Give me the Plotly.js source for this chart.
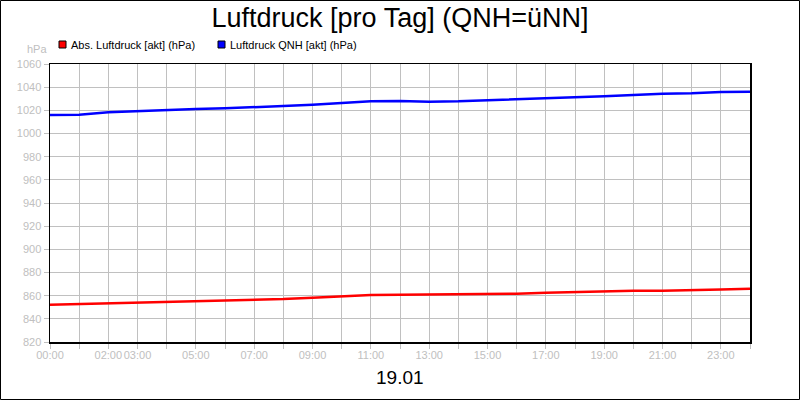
<!DOCTYPE html>
<html>
<head>
<meta charset="utf-8">
<script src="https://cdn.plot.ly/plotly-3.0.1.min.js"></script>
<style>
  html, body { margin: 0; padding: 0; background: #fff; }
  #chart { width: 800px; height: 400px; }
</style>
</head>
<body>
<div id="chart"></div>
<script>
// Stunden 0..24 (19.01.), Werte stündlich
const stunden = [0, 1, 2, 3, 4, 5, 6, 7, 8, 9, 10, 11, 12, 13, 14, 15, 16, 17, 18, 19, 20, 21, 22, 23, 24];
const absLuftdruck = [852.1, 852.7, 853.6, 854.2, 854.8, 855.1, 855.4, 856.2, 857.1, 858.3, 859.7, 860.6, 860.7,
  860.9, 860.9, 861.4, 861.7, 862.5, 863.1, 863.7, 864.2, 864.2, 864.5, 865.4, 866.0];
const luftdruckQNH = [1016.0, 1016.2, 1018.3, 1019.4, 1020.5, 1021.1, 1021.7, 1022.6, 1023.7, 1024.9, 1026.3, 1027.8, 1028.1,
  1027.5, 1027.8, 1028.6, 1029.5, 1030.4, 1030.9, 1032.1, 1033.2, 1034.4, 1034.7, 1035.8, 1036.1];

const achsenTicks = [0, 1, 2, 3, 4, 5, 6, 7, 8, 9, 10, 11, 12, 13, 14, 15, 16, 17, 18, 19, 20, 21, 22, 23, 24];
const achsenLabels = ['00:00', '', '02:00', '03:00', '', '05:00', '', '07:00', '', '09:00', '', '11:00', '',
  '13:00', '', '15:00', '', '17:00', '', '19:00', '', '21:00', '', '23:00', ''];

const serienNamen = ['Abs. Luftdruck [akt] (hPa)', 'Luftdruck QNH [akt] (hPa)'];
const serienFarben = ['#ff0000', '#0000ff'];

const GRAU = '#c0c0c0';
const SCHRIFT = '"Liberation Sans", Arial, sans-serif';

// Plotbereich in Pixeln: links 50, rechts 750, oben 64, unten 342
const M = { l: 50, r: 50, t: 64, b: 58 };
const B = 800 - M.l - M.r, H = 400 - M.t - M.b;
const px = (x) => (x - M.l) / B;     // Pixel -> paper x
const py = (y) => (400 - M.b - y) / H; // Pixel -> paper y

const trazas = [absLuftdruck, luftdruckQNH].map((werte, i) => ({
  type: 'scatter',
  mode: 'lines',
  name: serienNamen[i],
  x: stunden,
  y: werte,
  line: { color: serienFarben[i], width: 2.5 },
  hoverinfo: 'skip',
}));

// eigene Legende mit Quadraten, wie im Original
const legendeX = [59, 218];
const shapes = [];
const annotations = [];
serienNamen.forEach((name, i) => {
  shapes.push({ type: 'rect', xref: 'paper', yref: 'paper',
    x0: px(legendeX[i]), x1: px(legendeX[i] + 7), y0: py(48), y1: py(41),
    fillcolor: serienFarben[i], line: { color: '#000', width: 1 } });
  annotations.push({ text: name, xref: 'paper', yref: 'paper', x: px(legendeX[i] + 10), y: py(44.5),
    xanchor: 'left', yanchor: 'middle', showarrow: false, font: { size: 11, color: '#000', family: SCHRIFT } });
});
annotations.push({ text: 'hPa', xref: 'paper', yref: 'paper', x: px(49), y: py(49),
  xanchor: 'right', yanchor: 'middle', showarrow: false, font: { size: 11, color: GRAU, family: SCHRIFT } });
annotations.push({ text: '19.01', xref: 'paper', yref: 'paper', x: 0.5, y: py(377),
  xanchor: 'center', yanchor: 'middle', showarrow: false, font: { size: 19, color: '#000', family: SCHRIFT } });
// Rahmen um das ganze Bild
shapes.push({ type: 'rect', xref: 'paper', yref: 'paper',
  x0: px(0.5), x1: px(799.5), y0: py(399.5), y1: py(0.5), line: { color: '#000', width: 1 } });

const layout = {
  width: 800, height: 400,
  margin: M,
  showlegend: false,
  paper_bgcolor: '#fff', plot_bgcolor: '#fff',
  font: { family: SCHRIFT, size: 11, color: GRAU },
  title: { text: 'Luftdruck [pro Tag] (QNH=üNN]', x: 0.5, xanchor: 'center', y: 1 - 18 / 400, yanchor: 'middle',
    font: { size: 27, color: '#000', family: SCHRIFT } },
  xaxis: {
    range: [0, 24], tickvals: achsenTicks, ticktext: achsenLabels, tickangle: 0, ticklabelstandoff: -3,
    showgrid: true, gridcolor: GRAU, gridwidth: 1, zeroline: false,
    showline: true, linecolor: '#000', linewidth: 1.5, mirror: true,
    ticks: 'outside', ticklen: 5, tickcolor: GRAU, tickfont: { size: 11, color: GRAU },
  },
  yaxis: {
    range: [820, 1060], dtick: 20, tick0: 820,
    showgrid: true, gridcolor: GRAU, gridwidth: 1, zeroline: false,
    showline: true, linecolor: '#000', linewidth: 1.5, mirror: true,
    ticks: 'outside', ticklen: 5, tickcolor: GRAU, tickfont: { size: 11, color: GRAU },
  },
  shapes,
  annotations,
};

Plotly.newPlot('chart', trazas, layout, { displayModeBar: false, staticPlot: true });
</script>
</body>
</html>
